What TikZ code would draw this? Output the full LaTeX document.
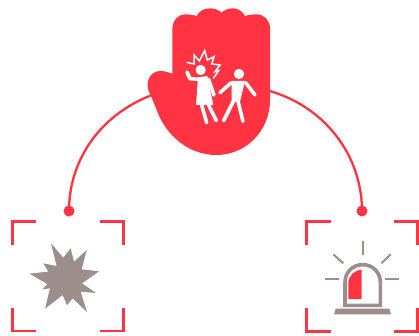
\documentclass[tikz,border=0pt]{standalone}
\usepackage{xcolor}
\usetikzlibrary{positioning}
\definecolor{AlarmRed}{RGB}{255, 51, 65}
\definecolor{AlarmGrey}{RGB}{156, 143, 139}

\begin{document}
\begin{tikzpicture}[x=1pt,y=-1pt,
    wire/.style={AlarmRed, line width=2.3pt},
    pin/.style={circle, fill=AlarmRed, minimum size=11pt, inner sep=0pt},
    corner/.style={AlarmRed, line width=2.4pt},
    limb/.style={white, line width=3.6pt, line cap=round, line join=round},
    ray/.style={AlarmGrey, line width=2pt}]
  \path[use as bounding box] (0,0) rectangle (419,336);
  \fill[white] (0,0) rectangle (419,336);

  % connectors
  \node[pin] (pinleft) at (69,211) {};
  \node[pin] (pinright) at (362,211) {};
  \coordinate (handleft) at (152,95);
  \coordinate (handright) at (266,90);
  \draw[wire] (pinleft.center) .. controls (69,160) and (100,115) .. (handleft);
  \draw[wire] (pinright.center) .. controls (362,155) and (324,105) .. (handright);

  % hand with figures
  \begin{scope}[shift={(130,0)}, scale=1/3]
    \fill[AlarmRed] (127,222) -- (127,90) .. controls (127,60) and (145,43) .. (165,43)
      .. controls (178,43) and (190,45) .. (200,48)
      .. controls (208,33) and (222,25) .. (240,25)
      .. controls (255,25) and (267,30) .. (275,38)
      .. controls (283,30) and (295,25) .. (310,25)
      .. controls (325,25) and (338,35) .. (345,48)
      .. controls (355,45) and (367,43) .. (380,43)
      .. controls (403,43) and (420,62) .. (420,85) -- (420,300)
      .. controls (420,395) and (345,465) .. (260,465)
      .. controls (170,465) and (105,400) .. (80,330) -- (62,285)
      .. controls (40,250) and (60,213) .. (90,213)
      .. controls (103,213) and (115,216) .. (127,222) -- cycle;
    \draw[white, line width=1.5pt, line join=miter]
      (170,187) -- (192,192) -- (192,165) -- (208,183) -- (224,152) -- (232,180)
      -- (252,170) -- (245,192) -- (270,195) -- (255,215) -- (266,212) -- (250,235);
    \fill[white] (212,210) circle (15.5);
    \fill[white] (204,232) -- (232,228) -- (250,315) -- (198,315) -- cycle;
    \draw[limb] (206,238) -- (180,236) -- (171,216);
    \draw[limb] (236,238) -- (252,285);
    \draw[limb] (215,315) -- (230,368);
    \draw[limb] (236,315) -- (259,362);
    \fill[white] (327,222) circle (15.5);
    \fill[white] (305,243) -- (345,243) -- (330,305) -- (305,305) -- cycle;
    \draw[limb] (270,278) -- (304,248);
    \draw[limb] (347,248) -- (375,285);
    \draw[limb] (312,300) -- (281,362);
    \draw[limb] (323,300) -- (339,364);
  \end{scope}

  % corner marks, left
  \draw[corner] (12.5,245) -- (12.5,221.5) -- (36,221.5);
  \draw[corner] (100,221.5) -- (123.5,221.5) -- (123.5,245);
  \draw[corner] (12.5,308) -- (12.5,331) -- (36,331);
  \draw[corner] (100,331) -- (123.5,331) -- (123.5,308);

  % corner marks, right
  \draw[corner] (306.5,245) -- (306.5,221.5) -- (330.5,221.5);
  \draw[corner] (394,221.5) -- (417.5,221.5) -- (417.5,245);
  \draw[corner] (306.5,308) -- (306.5,331.5) -- (330.5,331.5);
  \draw[corner] (394,331.5) -- (417.5,331.5) -- (417.5,308);

  % burst
  \begin{scope}[shift={(0,200)}, scale=1/3]
    \fill[AlarmGrey] (153,130) -- (190,173) -- (212,145) -- (222,185) -- (260,150)
      -- (245,208) -- (297,214) -- (246,250) -- (288,279) -- (242,275) -- (261,336)
      -- (218,295) -- (201,316) -- (188,285) -- (135,326) -- (150,265) -- (127,268)
      -- (142,252) -- (88,221) -- (145,215) -- (130,190) -- (170,198) -- cycle;
  \end{scope}

  % beacon
  \begin{scope}[shift={(290,200)}, scale=1/3]
    \draw[ray] (218,123) -- (218,165);
    \draw[ray] (130,163) -- (160,190);
    \draw[ray] (302,163) -- (274,190);
    \draw[ray] (105,237) -- (147,237);
    \draw[ray] (285,237) -- (327,237);
    \draw[AlarmGrey, line width=3.6pt] (165,316) -- (165,247)
      .. controls (165,217) and (188,194) .. (218,194)
      .. controls (248,194) and (271,217) .. (271,247) -- (271,316) -- cycle;
    \fill[AlarmRed] (175,297) -- (175,250) .. controls (175,228) and (192,211) .. (215,209)
      -- (215,297) -- cycle;
    \fill[AlarmGrey] (132,343) -- (137,326) -- (298,326) -- (303,343) -- cycle;
  \end{scope}
\end{tikzpicture}
\end{document}
